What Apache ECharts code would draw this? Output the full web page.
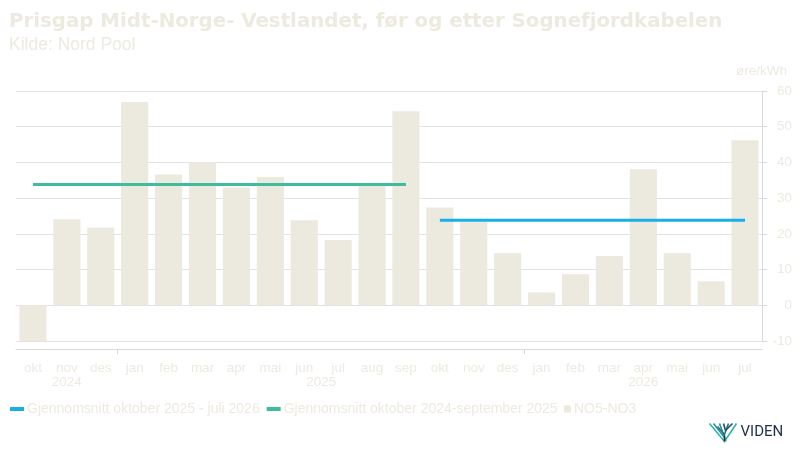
<!DOCTYPE html>
<html lang="no" style="height: 100%">

<head>
    <meta charset="utf-8">
    <title>Prisgap Midt-Norge- Vestlandet</title>
    <script src="https://cdn.jsdelivr.net/npm/echarts@6/dist/echarts.min.js"></script>
</head>

<body style="height: 100%;margin: 0;background:#fff">
    <div id="main" style="width:800px;height:450px"></div>

    <script>
        // data (øre/kWh)
        const months = ['okt', 'nov', 'des', 'jan', 'feb', 'mar', 'apr', 'mai', 'jun', 'jul', 'aug', 'sep',
            'okt', 'nov', 'des', 'jan', 'feb', 'mar', 'apr', 'mai', 'jun', 'jul'];
        const no5no3 = [-10, 24.1, 21.8, 56.9, 36.6, 40, 33, 35.9, 23.8, 18.3, 33.6, 54.3,
            27.4, 23.3, 14.6, 3.6, 8.7, 13.8, 38.1, 14.6, 6.7, 46.2];
        const avgFirst = 33.8;   // okt 2024 - sep 2025
        const avgSecond = 23.8;  // okt 2025 - jul 2026
        const years = ['2024', '2025', '2026'];
        const yearPos = [1.5, 9, 18.5];   // centre of each year group, in category units
        const yearBreaks = [3, 15];

        const nameA = 'Gjennomsnitt oktober 2025 - juli 2026';
        const nameB = 'Gjennomsnitt oktober 2024-september 2025';
        const nameC = 'NO5-NO3';

        const textCol = '#EDEAE0';
        const axisCol = '#D9D9D9';
        const font = 'Liberation Sans';

        const firstLine = months.map((m, i) => i < 12 ? avgFirst : null);
        const secondLine = months.map((m, i) => i >= 12 ? avgSecond : null);

        const myChart = echarts.init(document.getElementById('main'), null, { renderer: 'canvas' });

        const option = {
            animation: false,
            textStyle: { fontFamily: font },
            title: {
                text: 'Prisgap Midt-Norge- Vestlandet, før og etter Sognefjordkabelen',
                subtext: 'Kilde: Nord Pool',
                left: 9,
                top: 12,
                padding: 0,
                itemGap: 4,
                textStyle: { fontFamily: 'DejaVu Sans', fontWeight: 'bold', fontSize: 19.8, color: textCol },
                subtextStyle: { fontFamily: font, fontSize: 17.5, color: textCol }
            },
            legend: [{
                left: 10,
                top: 402,
                padding: 0,
                itemWidth: 14,
                itemHeight: 4,
                itemGap: 7,
                icon: 'rect',
                data: [nameA, nameB],
                textStyle: { color: textCol, fontSize: 14, padding: [0, 0, 0, -2] }
            }, {
                left: 564,
                top: 402,
                padding: 0,
                itemWidth: 7,
                itemHeight: 7,
                icon: 'rect',
                data: [nameC],
                textStyle: { color: textCol, fontSize: 14, padding: [0, 0, 0, -2] }
            }],
            grid: { left: 16, right: 38, top: 91, bottom: 109, outerBoundsMode: 'none' },
            xAxis: [{
                type: 'category',
                data: months,
                offset: 8,
                axisLine: { onZero: false, lineStyle: { color: axisCol } },
                axisTick: { length: 3, lineStyle: { color: axisCol } },
                axisLabel: { color: textCol, fontSize: 13.5, margin: 12 }
            }, {
                type: 'value',
                position: 'bottom',
                min: 0,
                max: months.length,
                offset: 8,
                splitLine: { show: false },
                axisLine: { show: false, onZero: false },
                axisTick: {
                    show: true, length: 5, customValues: yearBreaks,
                    lineStyle: { color: axisCol }
                },
                axisLabel: {
                    color: textCol, fontSize: 13.5, margin: 26,
                    customValues: yearPos,
                    formatter: v => years[yearPos.indexOf(v)] || ''
                }
            }],
            yAxis: {
                type: 'value',
                position: 'right',
                min: -10,
                max: 60,
                interval: 10,
                name: 'øre/kWh',
                nameGap: 13,
                nameTextStyle: { color: textCol, fontSize: 13.5, align: 'right', padding: [0, -25, 0, 0] },
                axisLine: { show: true, onZero: false, lineStyle: { color: axisCol } },
                axisTick: { show: true, length: 5, lineStyle: { color: axisCol } },
                axisLabel: { color: textCol, fontSize: 13.5, align: 'right', margin: 30 },
                splitLine: { lineStyle: { color: '#E2E2E2' } }
            },
            series: [{
                name: nameC,
                type: 'bar',
                data: no5no3,
                barCategoryGap: '20%',
                itemStyle: { color: '#ECE9DF' },
                z: 2
            }, {
                name: nameB,
                type: 'line',
                data: firstLine,
                showSymbol: false,
                symbol: 'none',
                itemStyle: { color: '#3DBD9B' },
                lineStyle: { width: 3, color: '#3DBD9B' },
                z: 3
            }, {
                name: nameA,
                type: 'line',
                data: secondLine,
                showSymbol: false,
                symbol: 'none',
                itemStyle: { color: '#17AEEA' },
                lineStyle: { width: 3, color: '#17AEEA' },
                z: 3
            }],
            graphic: [{
                // VIDEN logo
                type: 'group',
                left: 707,
                top: 421,
                children: [
                    { type: 'polyline', shape: { points: [[0, 2], [15, 20], [27, 2]] }, style: { stroke: '#2CB6A4', lineWidth: 1.6, fill: null } },
                    { type: 'polyline', shape: { points: [[4, 2], [15, 16], [10, 2]] }, style: { stroke: '#2C8F9A', lineWidth: 1.6, fill: null } },
                    { type: 'polyline', shape: { points: [[8, 5], [15, 13], [19, 2]] }, style: { stroke: '#2B6F87', lineWidth: 1.6, fill: null } },
                    { type: 'polyline', shape: { points: [[14, 2], [16, 9], [23, 2]] }, style: { stroke: '#24506E', lineWidth: 1.6, fill: null } },
                    { type: 'line', shape: { x1: 15, y1: 20, x2: 15, y2: 14 }, style: { stroke: '#1F2D4F', lineWidth: 1.6 } },
                    {
                        type: 'text', x: 31, y: 3,
                        style: { text: 'VIDEN', fill: '#1F2D4F', font: '15px Roboto' }
                    }
                ]
            }]
        };

        myChart.setOption(option);
    </script>
</body>

</html>
